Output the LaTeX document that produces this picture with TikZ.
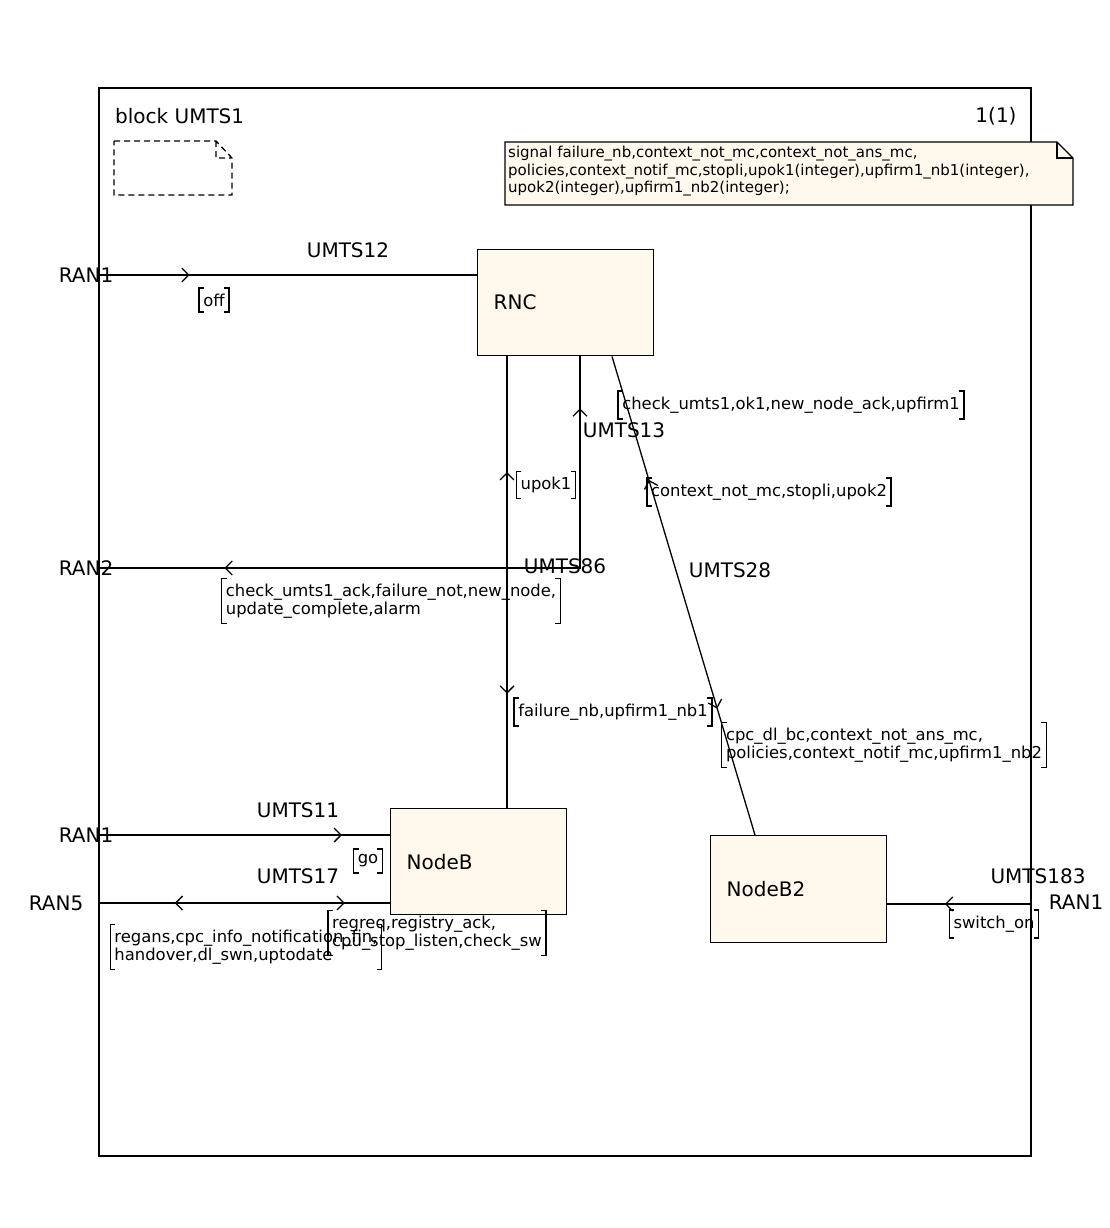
\documentclass[tikz,border=0pt]{standalone}
\usepackage{fontspec}
\setmainfont{DejaVu Sans}
\usetikzlibrary{positioning, arrows.meta, decorations.markings}
\definecolor{cream}{RGB}{255,249,237}
\newcommand{\bigf}{\fontsize{20}{24}\selectfont}
\newcommand{\smallf}{\fontsize{16.4}{17.5}\selectfont}
\newcommand{\notef}{\fontsize{15}{17.5}\selectfont}
\tikzset{
  blk/.style={draw, line width=1.4pt, fill=cream, anchor=north west, inner xsep=16pt, inner ysep=0pt,
    text width=144pt, minimum height=106pt, align=left, font=\bigf},
  chan/.style={line width=1.3pt},
  nm/.style={font=\bigf, inner sep=0pt},
  sig/.style={font=\smallf, align=left, inner xsep=4pt, inner ysep=5.5pt},
  fwd/.style={postaction={decorate, decoration={markings,
    mark=at position #1 with {\arrow{Straight Barb[length=7pt,width=14pt]}}}}},
  bwd/.style={postaction={decorate, decoration={markings,
    mark=at position #1 with {\arrowreversed{Straight Barb[length=7pt,width=14pt]}}}}}
}

\begin{document}
\begin{tikzpicture}[x=1pt, y=-1pt]
\useasboundingbox (0,0) rectangle (1109,1228);
\draw[line width=1.3pt] (99,88) rectangle (1031,1156);
\node[nm, anchor=west] (title) at (115,116) {block UMTS1};
\node[nm] (page) at (996,116) {1(1)};
\draw[dashed, dash pattern=on 6pt off 4pt, line width=1.3pt] (114,141) -- (216,141) -- (232,158) -- (232,195) -- (114,195) -- cycle (216,141) -- (216,158) -- (232,158);
% signal declarations
\draw[fill=cream, line width=1.3pt] (505,142) -- (1057,142) -- (1073,158) -- (1073,205) -- (505,205) -- cycle;
\draw[line width=1.3pt] (1057,142) -- (1057,158) -- (1073,158);
\node[font=\notef, align=left, inner sep=0pt, anchor=north west] (decl) at (508,146)
  {signal failure\_nb,context\_not\_mc,context\_not\_ans\_mc,\\
   policies,context\_notif\_mc,stopli,upok1(integer),upfirm1\_nb1(integer),\\
   upok2(integer),upfirm1\_nb2(integer);};

\node[blk] (rnc) at (477,249) {RNC};
\node[blk] (nodeb) at (390,808) {NodeB};
\node[blk, minimum height=107pt] (nodeb2) at (710,835) {NodeB2};

\coordinate (f1) at (99,275);
\coordinate (f2) at (99,568);
\coordinate (f3) at (99,835);
\coordinate (f5) at (99,903);
\coordinate (f6) at (1031,904);

\node[nm] (ran1a) at (86,275) {RAN1};
\node[nm] (ran2) at (86,568) {RAN2};
\node[nm] (ran1b) at (86,835) {RAN1};
\node[nm] (ran5) at (56,903) {RAN5};
\node[nm] (ran1c) at (1076,902) {RAN1};

\draw[chan, fwd=0.24] (f1) -- (f1 -| rnc.west);
\draw[chan, bwd=0.256, fwd=0.747] ([xshift=30pt]rnc.south west) -- ([xshift=30pt]rnc.south west |- nodeb.north);
\draw[chan, bwd=0.075, fwd=0.819] ([xshift=103pt]rnc.south west) |- (f2);
\draw[chan, bwd=0.258, fwd=0.736] ([xshift=135pt]rnc.south west) -- ([xshift=45pt]nodeb2.north west);
\draw[chan, fwd=0.835] (f3) -- (f3 -| nodeb.west);
\draw[chan, bwd=0.26, fwd=0.845] (f5) -- (f5 -| nodeb.west);
\draw[chan, fwd=0.6] (f6) -- (f6 -| nodeb2.east);

\node[nm] (u12) at (348,250) {UMTS12};
\node[nm] (u13) at (624,430) {UMTS13};
\node[nm] (u86) at (565,566) {UMTS86};
\node[nm] (u28) at (730,570) {UMTS28};
\node[nm] (u11) at (298,810) {UMTS11};
\node[nm] (u17) at (298,876) {UMTS17};
\node[nm] (u183) at (1038,876) {UMTS183};

\node[sig] (off) at (214,300) {off};
\node[sig] (upok) at (546,485) {upok1};
\node[sig] (chk) at (791,405) {check\_umts1,ok1,new\_node\_ack,upfirm1};
\node[sig] (ctx) at (769,492) {context\_not\_mc,stopli,upok2};
\node[sig] (chkack) at (391,601) {check\_umts1\_ack,failure\_not,new\_node,\\update\_complete,alarm};
\node[sig] (fail) at (613,712) {failure\_nb,upfirm1\_nb1};
\node[sig] (cpc) at (884,745) {cpc\_dl\_bc,context\_not\_ans\_mc,\\policies,context\_notif\_mc,upfirm1\_nb2};
\node[sig] (go) at (368,861) {go};
\node[sig] (regans) at (246,947) {regans,cpc\_info\_notification\_fin,\\handover,dl\_swn,uptodate};
\node[sig] (regreq) at (437,933) {regreq,registry\_ack,\\cpu\_stop\_listen,check\_sw};
\node[sig] (swon) at (994,924) {switch\_on};
\foreach \n in {off,upok,chk,ctx,chkack,fail,cpc,go,regans,regreq,swon}
  \draw[line width=1.3pt] ([xshift=5pt]\n.north west) -| (\n.south west) -- ++(5pt,0)
    ([xshift=-5pt]\n.north east) -| (\n.south east) -- ++(-5pt,0);
\end{tikzpicture}
\end{document}
